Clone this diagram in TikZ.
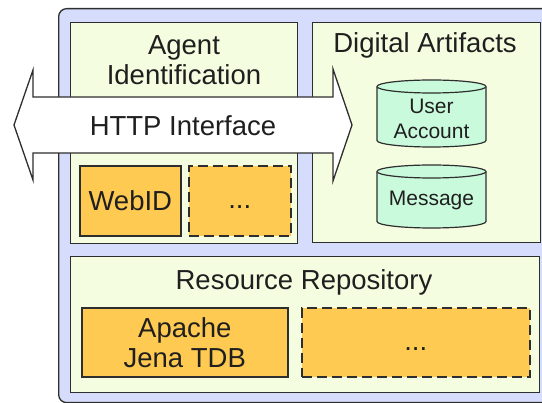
\documentclass[tikz,border=0pt]{standalone}
\usepackage{fontspec}
\setmainfont{Liberation Sans}
\definecolor{outerblue}{HTML}{D6DCFC}
\definecolor{panelgreen}{HTML}{F5FDE0}
\definecolor{implorange}{HTML}{FFCA52}
\definecolor{cylmint}{HTML}{C9FADC}
\definecolor{edgegray}{HTML}{2E2E2E}
\tikzset{
  panel/.style={draw=edgegray, line width=1.3pt, fill=panelgreen, anchor=north west, inner sep=0pt},
  implbox/.style={draw=edgegray, line width=1.6pt, fill=implorange, anchor=north west, inner sep=0pt},
  openbox/.style={implbox, dash pattern=on 10pt off 5pt},
  bigtext/.style={font=\fontsize{27.5}{30}\selectfont, text=black!88, align=center, inner sep=0pt},
  smalltext/.style={font=\fontsize{21}{25}\selectfont, text=black!88, align=center, inner sep=0pt},
  cyl/.style={draw=edgegray, line width=1.2pt, fill=cylmint},
}
\begin{document}
\begin{tikzpicture}[x=1pt,y=-1pt]
\useasboundingbox (0,0) rectangle (542,403);
% outer container
\node[draw=edgegray, line width=1.3pt, fill=outerblue, rounded corners=8pt, anchor=north west, inner sep=0pt,
      minimum width=500pt, minimum height=394pt] (outer) at (58,8) {};
% panels
\node[panel, minimum width=227pt, minimum height=221pt] (agent) at (70,22) {};
\node[panel, minimum width=228pt, minimum height=220pt] (artifacts) at (312,22) {};
\node[panel, minimum width=469pt, minimum height=136pt] (repo) at (70,256) {};
% HTTP interface double arrow
\draw[draw=edgegray, line width=1.3pt, fill=white, line join=miter]
  (14,125) -- (33,70) -- (33,97) -- (333,97) -- (333,69) -- (352,125)
  -- (333,181) -- (333,153) -- (33,153) -- (33,180) -- cycle;
\node[bigtext] (http) at (183,126) {HTTP Interface};
% titles
\node[bigtext] (agenttitle) at (184,60) {Agent\\Identification};
\node[bigtext] (arttitle) at (425,45) {Digital Artifacts};
\node[bigtext] (repotitle) at (304,282) {Resource Repository};
% agent identification implementations
\node[implbox, minimum width=101pt, minimum height=70pt] (webid) at (79,165) {};
\node[bigtext] at (webid.center) {WebID};
\node[openbox, minimum width=102pt, minimum height=70pt] (agentmore) at (188,165) {};
\node[bigtext, anchor=base] at ([yshift=-8pt]agentmore.center) {...};
% repository implementations
\node[implbox, minimum width=206pt, minimum height=69pt] (jena) at (81,307) {};
\node[bigtext] at (jena.center) {Apache\\Jena TDB};
\node[openbox, minimum width=228pt, minimum height=69pt] (repomore) at (301,307) {};
\node[bigtext, anchor=base] at ([yshift=-8pt]repomore.center) {...};
% cylinders
\draw[cyl] (377,86.5) -- (377,140.5) arc[start angle=180, end angle=360, x radius=54.5pt, y radius=6.5pt]
  -- (486,86.5) arc[start angle=0, end angle=180, x radius=54.5pt, y radius=6.5pt] -- cycle;
\draw[cyl] (377,86.5) arc[start angle=180, end angle=360, x radius=54.5pt, y radius=6.5pt];
\node[smalltext] (account) at (431.5,119) {User\\Account};
\draw[cyl] (377,171.5) -- (377,221.5) arc[start angle=180, end angle=360, x radius=54.5pt, y radius=6.5pt]
  -- (486,171.5) arc[start angle=0, end angle=180, x radius=54.5pt, y radius=6.5pt] -- cycle;
\draw[cyl] (377,171.5) arc[start angle=180, end angle=360, x radius=54.5pt, y radius=6.5pt];
\node[smalltext] (message) at (431.5,200) {Message};
\end{tikzpicture}
\end{document}
